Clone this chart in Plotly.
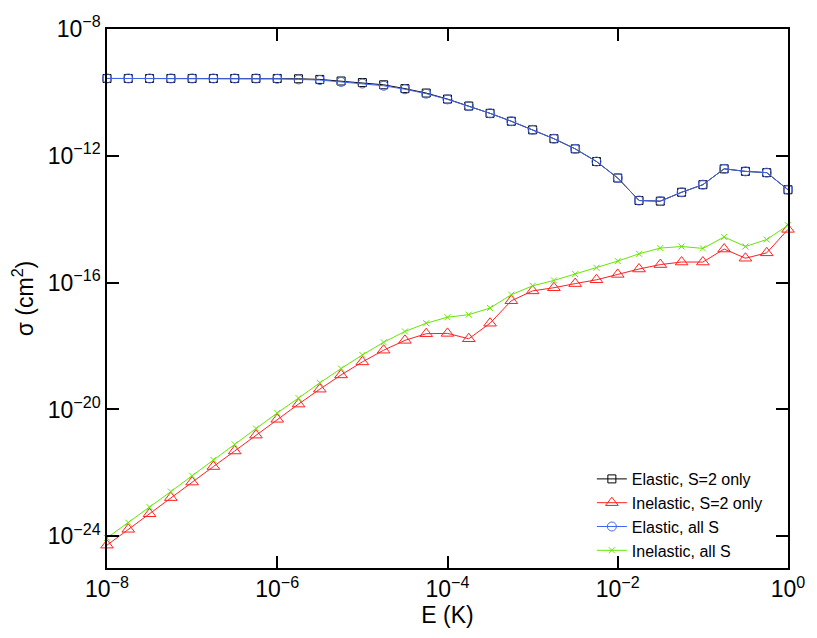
import numpy as np
import plotly.graph_objects as go

# energy grid: quarter-decade steps from 1e-8 K to 1 K
log_e = [-8.0, -7.75, -7.5, -7.25, -7.0, -6.75, -6.5, -6.25, -6.0, -5.75, -5.5,
         -5.25, -5.0, -4.75, -4.5, -4.25, -4.0, -3.75, -3.5, -3.25, -3.0, -2.75,
         -2.5, -2.25, -2.0, -1.75, -1.5, -1.25, -1.0, -0.75, -0.5, -0.25, 0.0]

# log10 of cross sections (cm^2)
elastic_s2 = [-9.56, -9.56, -9.56, -9.56, -9.56, -9.56, -9.56, -9.56, -9.56, -9.57, -9.59,
              -9.64, -9.69, -9.76, -9.88, -10.02, -10.21, -10.43, -10.66, -10.91, -11.18, -11.46,
              -11.78, -12.18, -12.70, -13.41, -13.43, -13.15, -12.91, -12.41, -12.49, -12.53, -13.07]
elastic_all = [-9.56, -9.56, -9.56, -9.56, -9.56, -9.56, -9.56, -9.56, -9.57, -9.59, -9.61,
               -9.67, -9.72, -9.79, -9.90, -10.04, -10.22, -10.43, -10.66, -10.91, -11.18, -11.46,
               -11.78, -12.18, -12.70, -13.41, -13.43, -13.15, -12.91, -12.41, -12.49, -12.53, -13.07]
inelastic_s2 = [-24.28, -23.78, -23.29, -22.78, -22.29, -21.80, -21.31, -20.81, -20.31, -19.83, -19.36,
                -18.91, -18.50, -18.13, -17.82, -17.61, -17.60, -17.77, -17.28, -16.57, -16.26, -16.16,
                -16.03, -15.91, -15.74, -15.57, -15.43, -15.35, -15.35, -14.94, -15.23, -15.06, -14.32]
inelastic_all = [-24.05, -23.57, -23.08, -22.59, -22.09, -21.59, -21.10, -20.60, -20.11, -19.64, -19.16,
                 -18.71, -18.28, -17.88, -17.54, -17.28, -17.09, -17.01, -16.80, -16.38, -16.10, -15.93,
                 -15.73, -15.53, -15.32, -15.09, -14.91, -14.86, -14.92, -14.56, -14.86, -14.64, -14.19]

x_ticks = [-8, -6, -4, -2, 0]
y_ticks = [-24, -20, -16, -12, -8]

energy = 10.0 ** np.array(log_e)

fig = go.Figure()

series = [
    ("Elastic, S=2 only", elastic_s2, "black", "square-open", 8),
    ("Inelastic, S=2 only", inelastic_s2, "#ff2020", "triangle-up-open", 11),
    ("Elastic, all S", elastic_all, "#4466ee", "circle-open", 9),
    ("Inelastic, all S", inelastic_all, "#66e600", "x-thin-open", 6),
]
for name, vals, color, symbol, size in series:
    fig.add_trace(go.Scatter(
        x=energy, y=10.0 ** np.array(vals),
        mode="lines+markers", name=name,
        line=dict(color=color, width=1),
        marker=dict(symbol=symbol, size=size, color=color, line=dict(color=color, width=1)),
        cliponaxis=False,
    ))

FONT = "Liberation Sans, Arial"

axis_common = dict(
    type="log", showgrid=False, zeroline=False,
    showline=True, linecolor="black", linewidth=1.5, mirror="ticks",
    ticks="inside", ticklen=12, tickwidth=1.5, tickcolor="black",
    tickfont=dict(family=FONT, size=23, color="black"),
    ticklabeloverflow="allow",
)

fig.update_xaxes(
    **axis_common,
    range=[-8, 0],
    tickvals=[10.0 ** v for v in x_ticks],
    ticktext=["10<sup>\u2212%d</sup>" % -v if v else "10<sup>0</sup>" for v in x_ticks],
    title=dict(text="E (K)", font=dict(family=FONT, size=23, color="black"), standoff=2),
)
fig.update_yaxes(
    **axis_common,
    range=[-25, -8],
    tickvals=[10.0 ** v for v in y_ticks],
    ticktext=["10<sup>\u2212%d</sup>" % -v for v in y_ticks],
    title=dict(text="\u03c3 (cm<sup>2</sup>)", font=dict(family=FONT, size=23, color="black"), standoff=8),
)

fig.update_layout(
    width=817, height=638,
    margin=dict(l=107, r=24, t=27, b=70),
    plot_bgcolor="white", paper_bgcolor="white",
    font=dict(family=FONT, color="black"),
    legend=dict(x=0.712, y=0.0, xanchor="left", yanchor="bottom",
                bgcolor="rgba(0,0,0,0)", font=dict(size=16), tracegroupgap=0,
                itemwidth=30),
)

# drop the default page margin so the figure sits at the window's corner
fig.write_html("out.html", config={"displayModeBar": False},
               post_script="document.body.style.margin='0';")
